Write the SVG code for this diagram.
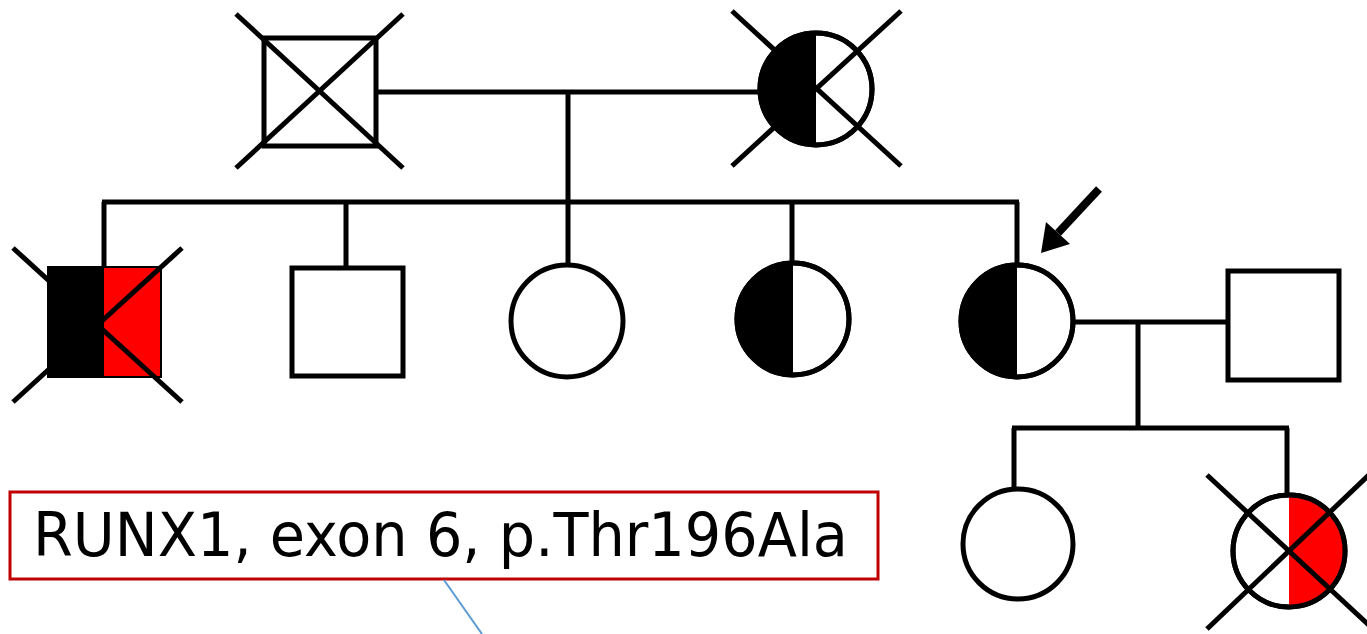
<svg xmlns="http://www.w3.org/2000/svg" width="1367" height="634" viewBox="0 0 1367 634">
  <style>
    .ln { stroke: #000; stroke-width: 5; fill: none; }
    .sym { stroke: #000; stroke-width: 5; fill: #fff; }
    .blk { fill: #000; stroke: none; }
    .red { fill: #ff0000; stroke: none; }
    .lbl { font-family: "DejaVu Sans", "Liberation Sans", sans-serif; font-size: 60px; fill: #000; }
  </style>
  <rect width="1367" height="634" fill="#fff"/>

  <!-- lines of descent and marriage -->
  <g id="connectors">
    <line class="ln" x1="376" y1="92" x2="760" y2="92"/>
    <line class="ln" x1="568" y1="92" x2="568" y2="202"/>
    <line class="ln" x1="102" y1="202" x2="1019" y2="202"/>
    <line class="ln" x1="104" y1="202" x2="104" y2="267"/>
    <line class="ln" x1="346" y1="202" x2="346" y2="268"/>
    <line class="ln" x1="568" y1="202" x2="568" y2="264"/>
    <line class="ln" x1="792" y1="202" x2="792" y2="262"/>
    <line class="ln" x1="1017" y1="202" x2="1017" y2="264"/>
    <line class="ln" x1="1074" y1="322" x2="1228" y2="322"/>
    <line class="ln" x1="1138" y1="322" x2="1138" y2="428"/>
    <line class="ln" x1="1012" y1="428" x2="1289" y2="428"/>
    <line class="ln" x1="1014" y1="428" x2="1014" y2="489"/>
    <line class="ln" x1="1287" y1="428" x2="1287" y2="496"/>
  </g>

  <!-- generation I -->
  <g id="I-1">
    <rect class="sym" x="264" y="38" width="112" height="108"/>
    <line class="ln" x1="236" y1="14" x2="403" y2="168"/>
    <line class="ln" x1="403" y1="14" x2="236" y2="168"/>
  </g>
  <g id="I-2">
    <circle class="sym" cx="816" cy="89" r="56"/>
    <path class="blk" d="M816,33 A56,56 0 0 0 816,145 Z"/>
    <circle class="ln" cx="816" cy="89" r="56"/>
    <line class="ln" x1="732" y1="11" x2="901" y2="166"/>
    <line class="ln" x1="901" y1="11" x2="732" y2="166"/>
  </g>

  <!-- generation II -->
  <g id="II-1">
    <rect class="blk" x="48" y="267" width="56" height="110"/>
    <rect class="red" x="104" y="267" width="57" height="110"/>
    <rect x="48" y="267" width="113" height="110" fill="none" stroke="#000" stroke-width="2"/>
    <line class="ln" x1="13" y1="248" x2="182" y2="402"/>
    <line class="ln" x1="182" y1="248" x2="13" y2="402"/>
  </g>
  <g id="II-2">
    <rect class="sym" x="292" y="268" width="111" height="108"/>
  </g>
  <g id="II-3">
    <circle class="sym" cx="567" cy="321" r="56"/>
  </g>
  <g id="II-4">
    <circle class="sym" cx="793" cy="319" r="56"/>
    <path class="blk" d="M793,263 A56,56 0 0 0 793,375 Z"/>
    <circle class="ln" cx="793" cy="319" r="56"/>
  </g>
  <g id="II-5">
    <circle class="sym" cx="1017" cy="321" r="56"/>
    <path class="blk" d="M1017,265 A56,56 0 0 0 1017,377 Z"/>
    <circle class="ln" cx="1017" cy="321" r="56"/>
    <!-- proband arrow -->
    <line x1="1099" y1="189" x2="1058" y2="233" stroke="#000" stroke-width="8"/>
    <polygon points="1041,253 1046,222 1070,244" fill="#000"/>
  </g>
  <g id="II-6">
    <rect class="sym" x="1228" y="271" width="111" height="109"/>
  </g>

  <!-- generation III -->
  <g id="III-1">
    <circle class="sym" cx="1018" cy="544" r="55"/>
  </g>
  <g id="III-2">
    <circle class="sym" cx="1289" cy="551" r="56"/>
    <path class="red" d="M1289,495 A56,56 0 0 1 1289,607 Z"/>
    <circle class="ln" cx="1289" cy="551" r="56"/>
    <line class="ln" x1="1207" y1="475" x2="1371" y2="627"/>
    <line class="ln" x1="1207" y1="629" x2="1371" y2="473"/>
  </g>

  <!-- variant label -->
  <g id="variant">
    <rect x="10" y="492" width="868" height="87" fill="#fff" stroke="#c00000" stroke-width="3"/>
    <text class="lbl" x="33" y="556" textLength="815" lengthAdjust="spacingAndGlyphs">RUNX1, exon 6, p.Thr196Ala</text>
    <line x1="444" y1="580" x2="482" y2="634" stroke="#5b9bd5" stroke-width="2"/>
  </g>
</svg>
